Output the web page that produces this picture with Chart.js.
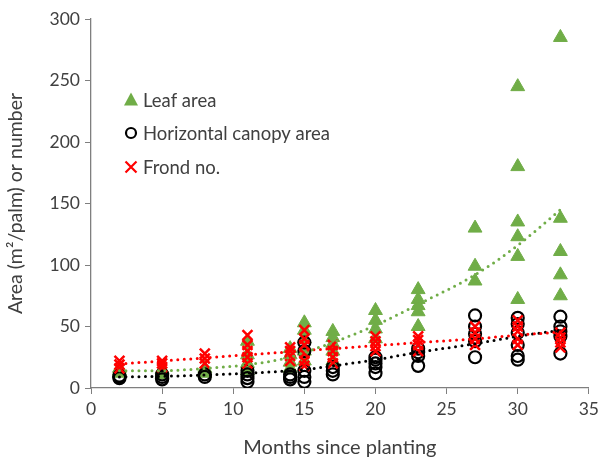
<!DOCTYPE html>
<html>
<head>
<meta charset="utf-8">
<script src="https://cdn.jsdelivr.net/npm/chart.js@4/dist/chart.umd.min.js"></script>
<style>
  html, body { margin: 0; padding: 0; background: #fff; }
  #wrap { width: 604px; height: 464px; }
</style>
</head>
<body>
<div id="wrap"><canvas id="growth"></canvas></div>
<script>
const months = [2, 5, 8, 11, 14, 15, 17, 20, 23, 27, 30, 33];

// one list of palm readings per survey month
const leafArea = [
  [12, 14, 16], [11, 13, 15], [12, 14, 16], [14, 20, 27, 38],
  [16, 21, 27, 32], [22, 30, 40, 47, 53], [22, 30, 36, 41, 46], [40, 48, 55, 63],
  [50, 62, 67, 72, 80], [87, 99, 130], [72, 107, 123, 135, 180, 245], [75, 92, 111, 138, 285],
];
const canopyArea = [
  [8, 9, 10], [7, 9, 11], [9, 11], [5, 8, 11, 14],
  [7, 9, 11], [5, 9, 14, 30, 37], [11, 14, 17], [12, 17, 20, 23, 25],
  [18, 26, 29, 32], [25, 38, 44, 50, 59], [23, 26, 35, 45, 52, 57], [28, 42, 46, 50, 58],
];
const frondNo = [
  [16, 19, 22], [17, 20, 22], [20, 24, 28], [20, 25, 30, 35, 43],
  [22, 26, 30, 33], [18, 22, 28, 35, 40, 47], [20, 25, 30, 35], [30, 34, 38, 42],
  [30, 35, 39, 42], [35, 40, 45, 50], [35, 40, 46, 50, 55], [33, 37, 41, 45],
];

// fitted trend values at each survey month
const leafTrend = [14, 14, 16, 19, 25, 29, 37, 51, 68, 92, 116, 145];
const canopyTrend = [9, 9.5, 10.5, 12, 14, 15, 18, 23, 29, 36, 42, 47];
const frondTrend = [19.5, 22, 24.5, 27, 29.5, 30.5, 32, 34.5, 37, 40, 43, 45.5];

const xTicks = [0, 5, 10, 15, 20, 25, 30, 35];
const yTicks = [0, 50, 100, 150, 200, 250, 300];

const GREEN = "#70AD47";
const RED = "#FF0000";
const BLACK = "#000000";
const TEXT = "#404040";
const AXIS = "#7f7f7f";
const FONT = "Lato, 'Open Sans', sans-serif";

const toPoints = (groups) =>
  groups.flatMap((vals, i) => vals.map((v) => ({ x: months[i], y: v })));
const toLine = (vals) => vals.map((v, i) => ({ x: months[i], y: v }));

const trend = (vals, color) => ({
  type: "line",
  data: toLine(vals),
  borderColor: color,
  borderWidth: 3,
  borderDash: [0, 6.5],
  borderCapStyle: "round",
  pointRadius: 0,
  cubicInterpolationMode: "monotone",
  showLine: true,
  fill: false,
  order: 0,
});

const series = [
  {
    label: "Leaf area",
    data: toPoints(leafArea),
    pointStyle: "triangle",
    pointRadius: 8,
    backgroundColor: GREEN,
    borderColor: GREEN,
    borderWidth: 1,
    order: 3,
  },
  {
    label: "Horizontal canopy area",
    data: toPoints(canopyArea),
    pointStyle: "circle",
    pointRadius: 6,
    backgroundColor: "rgba(0,0,0,0)",
    borderColor: BLACK,
    borderWidth: 2.2,
    order: 2,
  },
  {
    label: "Frond no.",
    data: toPoints(frondNo),
    pointStyle: "crossRot",
    pointRadius: 7,
    backgroundColor: RED,
    borderColor: RED,
    borderWidth: 2.5,
    order: 1,
  },
];

// legend drawn inside the plot, top-left, one row per series
const insideLegend = {
  id: "insideLegend",
  afterDraw(chart) {
    const { ctx } = chart;
    const rows = [100, 133, 167];
    ctx.save();
    ctx.font = "18.5px " + FONT;
    ctx.textBaseline = "middle";
    series.forEach((s, i) => {
      const y = rows[i];
      const x = 131;
      ctx.beginPath();
      if (s.pointStyle === "triangle") {
        ctx.fillStyle = GREEN;
        ctx.moveTo(x, y - 7.5);
        ctx.lineTo(x + 7, y + 5.5);
        ctx.lineTo(x - 7, y + 5.5);
        ctx.closePath();
        ctx.fill();
      } else if (s.pointStyle === "circle") {
        ctx.strokeStyle = BLACK;
        ctx.lineWidth = 2.2;
        ctx.arc(x, y, 5, 0, Math.PI * 2);
        ctx.stroke();
      } else {
        ctx.strokeStyle = RED;
        ctx.lineWidth = 2.2;
        ctx.moveTo(x - 5.5, y - 5.5);
        ctx.lineTo(x + 5.5, y + 5.5);
        ctx.moveTo(x + 5.5, y - 5.5);
        ctx.lineTo(x - 5.5, y + 5.5);
        ctx.stroke();
      }
      ctx.fillStyle = TEXT;
      ctx.fillText(s.label, 143, y + 1);
    });
    ctx.restore();
  },
};

new Chart(document.getElementById("growth"), {
  type: "scatter",
  data: {
    datasets: [
      trend(leafTrend, GREEN),
      trend(frondTrend, RED),
      trend(canopyTrend, BLACK),
      ...series,
    ],
  },
  options: {
    responsive: true,
    maintainAspectRatio: false,
    animation: false,
    layout: { padding: { left: 0, top: 19, right: 13, bottom: 0 } },
    plugins: {
      legend: { display: false },
      tooltip: { enabled: false },
    },
    scales: {
      x: {
        type: "linear",
        min: 0,
        max: 35,
        afterBuildTicks: (axis) => { axis.ticks = xTicks.map((v) => ({ value: v })); },
        afterFit: (axis) => { axis.height = 76; },
        grid: { drawOnChartArea: false, color: AXIS, tickLength: 6, lineWidth: 1 },
        border: { color: AXIS, width: 1.3 },
        ticks: { color: TEXT, font: { family: FONT, size: 17.5 }, padding: 5, maxRotation: 0 },
        title: {
          display: true,
          text: "Months since planting",
          color: TEXT,
          font: { family: FONT, size: 20 },
          padding: { top: 4 },
        },
      },
      y: {
        type: "linear",
        min: 0,
        max: 300,
        afterBuildTicks: (axis) => { axis.ticks = yTicks.map((v) => ({ value: v })); },
        afterFit: (axis) => { axis.width = 91; },
        grid: { drawOnChartArea: false, color: AXIS, tickLength: 6, lineWidth: 1 },
        border: { color: AXIS, width: 1.3 },
        ticks: { color: TEXT, font: { family: FONT, size: 17.5 }, padding: 5 },
        title: {
          display: true,
          text: "Area (m\u00B2/palm) or number",
          color: TEXT,
          font: { family: FONT, size: 19.5 },
          padding: { bottom: 0 },
        },
      },
    },
  },
  plugins: [insideLegend],
});
</script>
</body>
</html>
